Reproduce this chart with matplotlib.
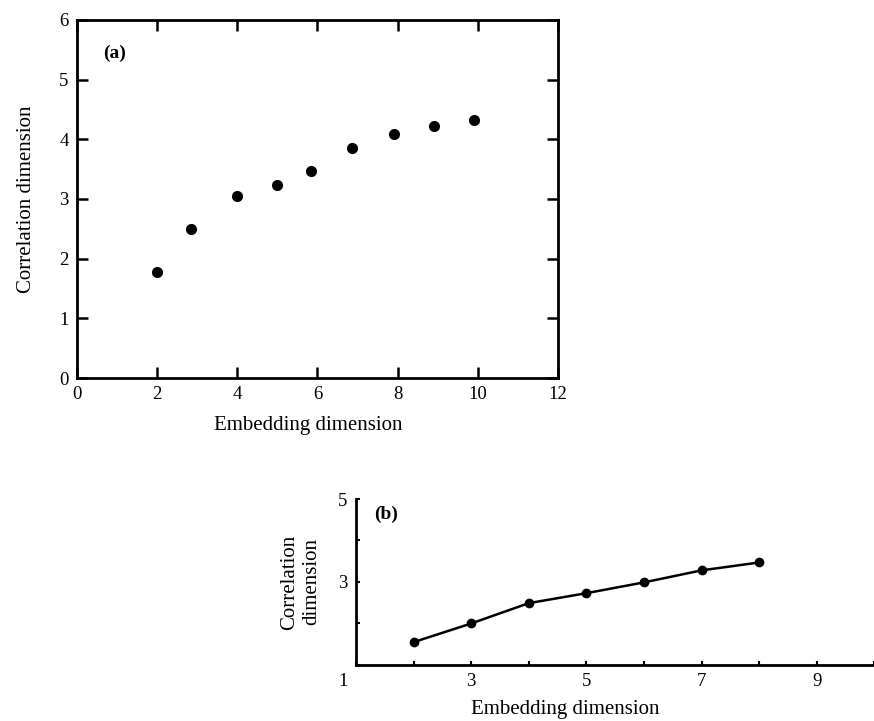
import matplotlib
matplotlib.use('Agg')
import matplotlib.pyplot as plt

plt.rcParams['font.family'] = ['Liberation Serif', 'DejaVu Serif']

# panel (a): correlation dimension vs embedding dimension (points only)
embed_a = [2, 2.85, 4, 5, 5.85, 6.85, 7.9, 8.9, 9.9]
corr_a = [1.78, 2.50, 3.05, 3.23, 3.47, 3.85, 4.09, 4.22, 4.32]

# panel (b): same, joined by a line
embed_b = [2, 3, 4, 5, 6, 7, 8]
corr_b = [1.55, 2.0, 2.49, 2.73, 2.99, 3.28, 3.47]

fig = plt.figure(figsize=(8.74, 7.21), dpi=100)

# --------- panel (a) ---------
ax1 = fig.add_axes([0.0881, 0.4757, 0.5503, 0.4966])
ax1.plot(embed_a, corr_a, 'o', color='black', markersize=7)
ax1.set_xlim(0, 12)
ax1.set_ylim(0, 6)
ax1.set_xticks([0, 2, 4, 6, 8, 10, 12])
ax1.set_yticks([0, 1, 2, 3, 4, 5, 6])
ax1.tick_params(direction='in', length=8, width=1.8, top=True, right=True,
                labelsize=13.5, pad=6)
for s in ax1.spines.values():
    s.set_linewidth(2)
ax1.set_xlabel('Embedding dimension', fontsize=15)
ax1.xaxis.set_label_coords(0.48, -0.105)
ax1.set_ylabel('Correlation dimension', fontsize=15)
ax1.yaxis.set_label_coords(-0.085, 0.5)
ax1.text(0.055, 0.93, '(a)', transform=ax1.transAxes, fontsize=14,
         fontweight='bold', va='top')

# --------- panel (b) ---------
ax2 = fig.add_axes([0.4073, 0.0777, 0.5996, 0.2302])
ax2.plot(embed_b, corr_b, '-o', color='black', markersize=6, linewidth=1.8)
ax2.set_xlim(1, 10.1)
ax2.set_ylim(1, 5)
ax2.set_xticks(range(1, 11))
ax2.set_xticklabels(['', '', '3', '', '5', '', '7', '', '9', ''])
ax2.set_yticks([1, 2, 3, 4, 5])
ax2.set_yticklabels(['', '', '3', '', '5'])
ax2.spines['top'].set_visible(False)
ax2.tick_params(direction='in', length=3, width=1.5, right=True,
                labelsize=13.5, pad=6)
for s in ax2.spines.values():
    s.set_linewidth(2)
ax2.text(-0.025, -0.1, '1', transform=ax2.transAxes, fontsize=13.5,
         ha='center', va='center')
ax2.set_xlabel('Embedding dimension', fontsize=15)
ax2.xaxis.set_label_coords(0.399, -0.21)
ax2.set_ylabel('Correlation\ndimension', fontsize=15, linespacing=1.25)
ax2.yaxis.set_label_coords(-0.066, 0.5)
ax2.text(0.035, 0.96, '(b)', transform=ax2.transAxes, fontsize=14,
         fontweight='bold', va='top')

fig.savefig('out.png', dpi=100)
